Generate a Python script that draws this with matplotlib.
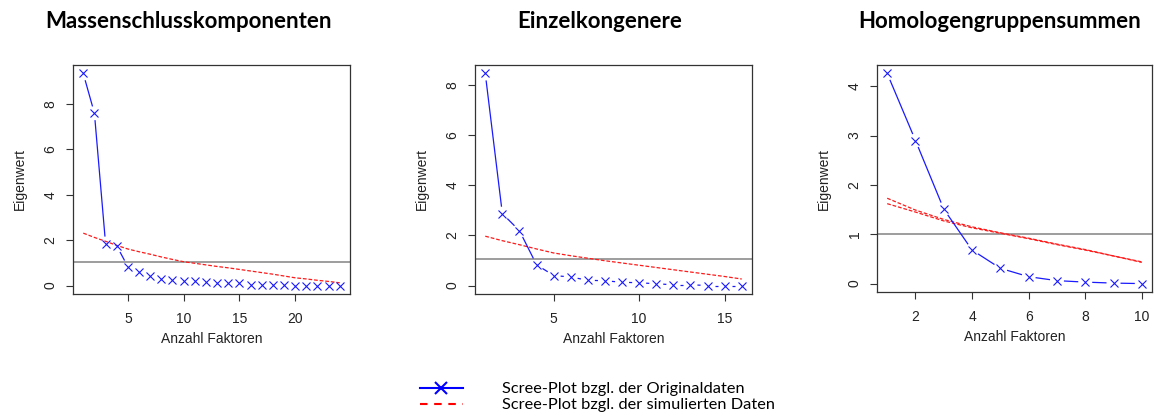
import numpy as np
import matplotlib
matplotlib.use("Agg")
import matplotlib.pyplot as plt
from matplotlib.lines import Line2D

# ---------------- data ----------------
titles = ["Massenschlusskomponenten", "Einzelkongenere", "Homologengruppensummen"]

orig_mass = [9.35, 7.6, 1.85, 1.75, 0.83, 0.59, 0.41, 0.28, 0.24, 0.19, 0.19, 0.16,
             0.12, 0.09, 0.09, 0.04, 0.04, 0.03, 0.02, 0.0, 0.0, 0.0, 0.0, 0.0]
sim_mass = [2.31, 2.12, 1.95, 1.77, 1.61, 1.49, 1.38, 1.26, 1.15, 1.05, 0.98, 0.91,
            0.84, 0.78, 0.71, 0.64, 0.57, 0.50, 0.42, 0.34, 0.29, 0.23, 0.18, 0.12]

orig_einzel = [8.47, 2.87, 2.19, 0.83, 0.40, 0.34, 0.21, 0.19, 0.13, 0.11, 0.07,
               0.03, 0.03, 0.0, 0.0, 0.0]
sim_einzel = [1.97, 1.79, 1.63, 1.46, 1.30, 1.19, 1.09, 0.99, 0.90, 0.81, 0.72,
              0.63, 0.54, 0.45, 0.36, 0.26]

orig_homolog = [4.26, 2.90, 1.51, 0.68, 0.31, 0.14, 0.06, 0.03, 0.01, 0.0]
sim_homolog_a = [1.73, 1.49, 1.30, 1.15, 1.03, 0.92, 0.80, 0.69, 0.56, 0.44]
sim_homolog_b = [1.62, 1.45, 1.27, 1.13, 1.02, 0.91, 0.79, 0.68, 0.56, 0.43]

ref_levels = [1.05, 1.06, 1.0]

xticks_list = [[5, 10, 15, 20], [5, 10, 15], [2, 4, 6, 8, 10]]
yticks_list = [[0, 2, 4, 6, 8], [0, 2, 4, 6, 8], [0, 1, 2, 3, 4]]

legend_labels = ["Scree-Plot bzgl. der Originaldaten", "Scree-Plot bzgl. der simulierten Daten"]

# ---------------- figure ----------------
W, H = 1154, 412
fig = plt.figure(figsize=(W / 100, H / 100), dpi=100)

boxes = [(73, 65, 350, 294), (475, 65, 752, 294), (877, 65, 1152, 292)]
title_x = [188, 600, 1000]

tick_font = "Liberation Sans"
blue = "#1a1aff"
red = "#ff1a1a"


def type_b(ax, x, y, color, gap=7.0, lw=0.9):
    pts = ax.transData.transform(np.column_stack([x, y]))
    inv = ax.transData.inverted()
    for p0, p1 in zip(pts[:-1], pts[1:]):
        d = p1 - p0
        L = np.hypot(*d)
        if L > 2 * gap:
            a = p0 + d / L * gap
            b = p1 - d / L * gap
            seg = inv.transform(np.array([a, b]))
            ax.plot(seg[:, 0], seg[:, 1], color=color, lw=lw, solid_capstyle="butt")
    ax.plot(x, y, linestyle="none", marker="x", color=color, markersize=5.5,
            markeredgewidth=0.8)


datasets = [
    (orig_mass, [sim_mass]),
    (orig_einzel, [sim_einzel]),
    (orig_homolog, [sim_homolog_a, sim_homolog_b]),
]

for i, (orig, sims) in enumerate(datasets):
    x0, y0, x1, y1 = boxes[i]
    ax = fig.add_axes([x0 / W, 1 - y1 / H, (x1 - x0) / W, (y1 - y0) / H])
    n = len(orig)
    xs = np.arange(1, n + 1)
    xr = n - 1
    ax.set_xlim(1 - 0.04 * xr, n + 0.04 * xr)
    ymax = max(orig)
    ax.set_ylim(-0.04 * ymax, ymax * 1.04)

    ax.axhline(ref_levels[i], color="#8c8c8c", lw=1.2, zorder=1)
    for s in sims:
        ax.plot(xs, s, color=red, lw=0.9, dashes=(3, 1.5), zorder=2)
    type_b(ax, xs, orig, blue)

    ax.set_xticks(xticks_list[i])
    ax.set_yticks(yticks_list[i])
    ax.set_xticklabels([str(t) for t in xticks_list[i]], fontsize=10, family=tick_font, color="#222222")
    ax.set_yticklabels([str(t) for t in yticks_list[i]], fontsize=10, family=tick_font,
                       rotation=90, va="center", color="#222222")
    ax.tick_params(direction="out", length=5, width=0.8, colors="#333333", pad=6)
    ax.tick_params(axis="x", pad=8)
    ax.tick_params(labelcolor="#222222")
    for sp in ax.spines.values():
        sp.set_color("#333333")
        sp.set_linewidth(0.9)
    ax.set_xlabel("Anzahl Faktoren", fontsize=10, family=tick_font, color="#222222", labelpad=4)
    ax.set_ylabel("Eigenwert", fontsize=10, family=tick_font, color="#222222", labelpad=12)

    fig.text(title_x[i] / W, 1 - 21 / H, titles[i], ha="center", va="center",
             fontsize=16, fontweight="bold", family="Lato")

# ---------------- legend ----------------
h_blue = Line2D([], [], color="blue", lw=1.5, marker="x", markersize=9, markeredgewidth=1.5)
h_red = Line2D([], [], color="red", lw=1.5, dashes=(3.6, 3.2))
fig.legend([h_blue, h_red], legend_labels, loc="upper left",
           bbox_to_anchor=(420 / W, 1 - 382 / H), frameon=False,
           prop={"family": "Lato", "size": 11.8}, handlelength=2.6,
           handletextpad=2.4, labelspacing=0.08, borderpad=0, borderaxespad=0)

fig.savefig("out.png", dpi=100)
